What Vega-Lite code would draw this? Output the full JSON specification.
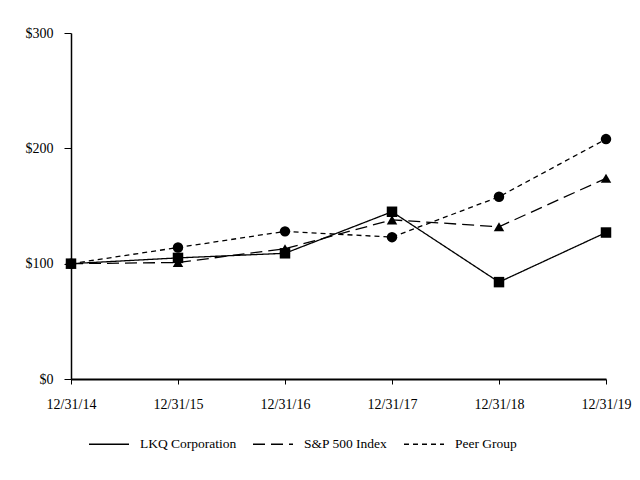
{
  "$schema": "https://vega.github.io/schema/vega-lite/v6.json",
  "autosize": {"type": "none"},
  "padding": {"left": 71, "top": 33, "right": 34, "bottom": 101},
  "width": 535,
  "height": 346,
  "background": "white",
  "config": {
    "view": {"stroke": null},
    "font": "Liberation Serif",
    "axis": {"grid": false, "labelFont": "Liberation Serif", "labelFontSize": 14, "labelColor": "black", "domainColor": "black", "tickColor": "black", "title": null},
    "legend": {"labelFont": "Liberation Serif", "labelFontSize": 13.5, "labelColor": "black"}
  },
  "data": {
    "values": [
      {"date": "12/31/14", "series": "LKQ Corporation", "value": 100},
      {"date": "12/31/15", "series": "LKQ Corporation", "value": 105},
      {"date": "12/31/16", "series": "LKQ Corporation", "value": 109},
      {"date": "12/31/17", "series": "LKQ Corporation", "value": 145},
      {"date": "12/31/18", "series": "LKQ Corporation", "value": 84},
      {"date": "12/31/19", "series": "LKQ Corporation", "value": 127},
      {"date": "12/31/14", "series": "S&P 500 Index", "value": 100},
      {"date": "12/31/15", "series": "S&P 500 Index", "value": 101},
      {"date": "12/31/16", "series": "S&P 500 Index", "value": 113},
      {"date": "12/31/17", "series": "S&P 500 Index", "value": 138},
      {"date": "12/31/18", "series": "S&P 500 Index", "value": 132},
      {"date": "12/31/19", "series": "S&P 500 Index", "value": 174},
      {"date": "12/31/14", "series": "Peer Group", "value": 100},
      {"date": "12/31/15", "series": "Peer Group", "value": 114},
      {"date": "12/31/16", "series": "Peer Group", "value": 128},
      {"date": "12/31/17", "series": "Peer Group", "value": 123},
      {"date": "12/31/18", "series": "Peer Group", "value": 158},
      {"date": "12/31/19", "series": "Peer Group", "value": 208}
    ]
  },
  "encoding": {
    "x": {
      "field": "date", "type": "ordinal", "sort": null,
      "scale": {"type": "point", "padding": 0},
      "axis": {"labelAngle": 0, "domainWidth": 2, "tickSize": 5, "labelPadding": 13}
    },
    "y": {
      "field": "value", "type": "quantitative",
      "scale": {"domain": [0, 300], "nice": false},
      "axis": {"values": [0, 100, 200, 300], "labelExpr": "'$' + datum.value", "domainWidth": 1.5, "tickSize": 7, "labelPadding": 11}
    }
  },
  "layer": [
    {
      "mark": {"type": "line", "color": "black", "strokeWidth": 1.3},
      "encoding": {
        "strokeDash": {
          "field": "series", "type": "nominal",
          "scale": {"domain": ["LKQ Corporation", "S&P 500 Index", "Peer Group"], "range": [[1, 0], [12, 6], [5, 4]]},
          "legend": {
            "title": null,
            "orient": "none",
            "direction": "horizontal",
            "legendX": 17,
            "legendY": 390,
            "symbolSize": 1600,
            "labelOffset": 10,
            "columnPadding": 13,
            "encode": {
              "symbols": {
                "update": {
                  "shape": {"signal": "datum.value === 'LKQ Corporation' ? 'M-1,0H1M-0.24,-0.24H0.24V0.24H-0.24Z' : datum.value === 'S&P 500 Index' ? 'M-1,0H1M0,-0.3L0.3,0.24H-0.3Z' : 'M-0.9,0H-0.55M0.55,0H0.9M-0.3,0a0.3,0.3 0 1,0 0.6,0a0.3,0.3 0 1,0 -0.6,0'"},
                  "fill": {"value": "black"},
                  "stroke": {"value": "black"},
                  "strokeWidth": {"value": 1.5},
                  "opacity": {"value": 1}
                }
              }
            }
          }
        }
      }
    },
    {
      "mark": {"type": "point", "filled": true, "color": "black", "opacity": 1, "size": 110},
      "encoding": {
        "shape": {
          "field": "series", "type": "nominal",
          "scale": {"domain": ["Peer Group", "LKQ Corporation", "S&P 500 Index"], "range": ["circle", "square", "triangle-up"]},
          "legend": null
        }
      }
    }
  ]
}
